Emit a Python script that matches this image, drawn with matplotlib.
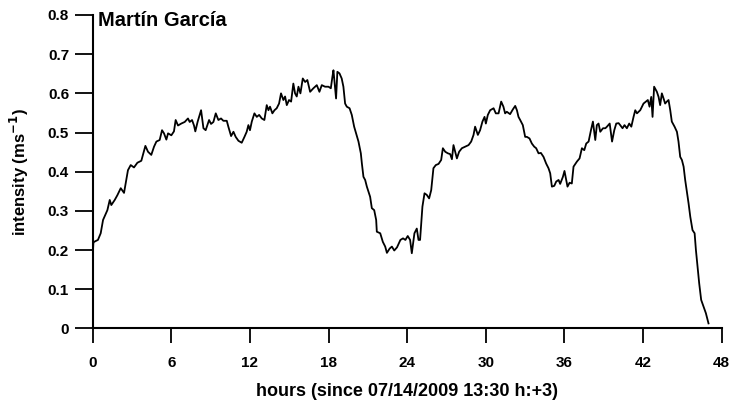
import matplotlib
matplotlib.use("Agg")
import matplotlib.pyplot as plt

hours = [
    0.0, 0.05, 0.1, 0.4, 0.61, 0.79, 0.96, 1.12, 1.3, 1.42, 1.68, 1.88, 2.14, 2.39, 2.69, 2.9, 3.15, 3.41, 3.71,
    4.02, 4.22, 4.47, 4.68, 4.86, 5.11, 5.29, 5.44, 5.62, 5.75, 6.0, 6.2, 6.33, 6.51, 6.76, 7.02, 7.27, 7.4,
    7.58, 7.73, 7.83, 8.01, 8.27, 8.45, 8.62, 8.88, 9.03, 9.21, 9.39, 9.59, 9.79, 9.97, 10.23, 10.35, 10.56,
    10.74, 10.91, 11.12, 11.37, 11.58, 11.75, 11.88, 12.0, 12.14, 12.34, 12.52, 12.7, 12.9, 13.1, 13.28, 13.41,
    13.53, 13.71, 13.87, 14.04, 14.22, 14.37, 14.55, 14.68, 14.81, 14.98, 15.14, 15.31, 15.44, 15.57, 15.7,
    15.85, 16.03, 16.21, 16.38, 16.59, 16.84, 17.1, 17.3, 17.48, 17.73, 17.99, 18.17, 18.29, 18.37, 18.45,
    18.57, 18.67, 18.83, 19.0, 19.13, 19.26, 19.39, 19.6, 19.77, 19.95, 20.1, 20.28, 20.46, 20.54, 20.66,
    20.79, 20.92, 21.17, 21.3, 21.48, 21.63, 21.68, 21.94, 22.14, 22.32, 22.45, 22.66, 22.83, 23.01, 23.22,
    23.48, 23.68, 23.86, 24.04, 24.22, 24.35, 24.55, 24.73, 24.86, 24.98, 25.16, 25.32, 25.49, 25.67, 25.83,
    26.0, 26.18, 26.39, 26.59, 26.72, 26.9, 27.1, 27.28, 27.41, 27.53, 27.66, 27.79, 27.96, 28.17, 28.42,
    28.68, 28.88, 29.06, 29.18, 29.39, 29.56, 29.74, 29.9, 30.0, 30.15, 30.33, 30.59, 30.76, 30.97, 31.17,
    31.34, 31.47, 31.6, 31.85, 32.06, 32.24, 32.37, 32.49, 32.62, 32.82, 33.0, 33.13, 33.33, 33.51, 33.69,
    33.84, 34.02, 34.2, 34.4, 34.6, 34.78, 34.91, 35.04, 35.22, 35.37, 35.55, 35.67, 35.88, 36.0, 36.13,
    36.23, 36.39, 36.56, 36.69, 36.95, 37.15, 37.33, 37.51, 37.66, 37.84, 38.02, 38.17, 38.35, 38.47, 38.6,
    38.73, 38.94, 39.12, 39.24, 39.45, 39.63, 39.8, 39.95, 40.13, 40.25, 40.43, 40.58, 40.76, 40.94, 41.1,
    41.27, 41.4, 41.53, 41.78, 42.03, 42.21, 42.36, 42.49, 42.62, 42.72, 42.84, 43.05, 43.18, 43.3, 43.43,
    43.56, 43.68, 43.81, 43.94, 44.07, 44.19, 44.4, 44.58, 44.7, 44.83, 44.96, 45.09, 45.21, 45.34, 45.47,
    45.6, 45.77, 45.93, 46.03, 46.18, 46.28, 46.43, 46.61, 46.79, 46.99,
]

intensity = [
    0.183, 0.218, 0.221, 0.226, 0.243, 0.277, 0.29, 0.302, 0.328, 0.315, 0.328, 0.34, 0.358, 0.346, 0.404,
    0.417, 0.411, 0.423, 0.428, 0.466, 0.451, 0.443, 0.464, 0.477, 0.481, 0.506, 0.498, 0.482, 0.498, 0.493,
    0.503, 0.532, 0.518, 0.523, 0.527, 0.536, 0.527, 0.532, 0.518, 0.503, 0.528, 0.557, 0.511, 0.506, 0.532,
    0.522, 0.527, 0.549, 0.532, 0.536, 0.53, 0.53, 0.515, 0.491, 0.502, 0.489, 0.479, 0.474, 0.489, 0.502,
    0.519, 0.506, 0.528, 0.549, 0.54, 0.545, 0.536, 0.532, 0.57, 0.557, 0.566, 0.549, 0.557, 0.562, 0.574,
    0.6, 0.583, 0.592, 0.57, 0.583, 0.579, 0.625, 0.6, 0.592, 0.617, 0.6, 0.638, 0.629, 0.634, 0.604, 0.613,
    0.621, 0.604, 0.621, 0.617, 0.617, 0.613, 0.642, 0.659, 0.629, 0.587, 0.655, 0.651, 0.638, 0.617, 0.574,
    0.566, 0.562, 0.545, 0.515, 0.498, 0.477, 0.447, 0.421, 0.387, 0.379, 0.362, 0.336, 0.307, 0.302, 0.277,
    0.247, 0.243, 0.221, 0.209, 0.193, 0.204, 0.209, 0.199, 0.207, 0.226, 0.23, 0.226, 0.236, 0.226, 0.192,
    0.243, 0.255, 0.226, 0.226, 0.311, 0.345, 0.341, 0.332, 0.353, 0.409, 0.417, 0.42, 0.43, 0.46, 0.451,
    0.447, 0.445, 0.432, 0.468, 0.451, 0.434, 0.451, 0.46, 0.464, 0.468, 0.477, 0.494, 0.515, 0.494, 0.506,
    0.528, 0.54, 0.523, 0.545, 0.557, 0.562, 0.549, 0.549, 0.579, 0.566, 0.549, 0.553, 0.547, 0.559, 0.568,
    0.557, 0.54, 0.532, 0.519, 0.489, 0.489, 0.485, 0.472, 0.464, 0.46, 0.447, 0.448, 0.438, 0.421, 0.409,
    0.396, 0.362, 0.364, 0.375, 0.379, 0.369, 0.387, 0.402, 0.379, 0.362, 0.372, 0.37, 0.413, 0.426, 0.434,
    0.46, 0.455, 0.472, 0.477, 0.506, 0.528, 0.481, 0.519, 0.523, 0.502, 0.511, 0.511, 0.515, 0.523, 0.477,
    0.506, 0.523, 0.524, 0.519, 0.511, 0.519, 0.511, 0.523, 0.515, 0.54, 0.557, 0.549, 0.557, 0.574, 0.579,
    0.583, 0.566, 0.591, 0.54, 0.617, 0.604, 0.591, 0.57, 0.6, 0.587, 0.574, 0.579, 0.583, 0.557, 0.528,
    0.515, 0.502, 0.477, 0.438, 0.43, 0.413, 0.379, 0.349, 0.319, 0.285, 0.251, 0.243, 0.2, 0.149, 0.115,
    0.073, 0.056, 0.039, 0.013,
]

x_ticks = [0, 6, 12, 18, 24, 30, 36, 42, 48]
y_ticks = [0, 0.1, 0.2, 0.3, 0.4, 0.5, 0.6, 0.7, 0.8]
y_tick_labels = ["0", "0.1", "0.2", "0.3", "0.4", "0.5", "0.6", "0.7", "0.8"]

plt.rcParams["font.family"] = ["Liberation Sans", "DejaVu Sans"]
plt.rcParams["font.weight"] = "bold"

fig = plt.figure(figsize=(7.34, 4.04), dpi=100)
ax = fig.add_axes([0.1263, 0.1869, 0.857, 0.776])

ax.plot(hours, intensity, color="black", lw=1.3)

ax.set_xlim(0, 48)
ax.set_ylim(0, 0.8)
ax.set_xticks(x_ticks)
ax.set_yticks(y_ticks)
ax.set_yticklabels(y_tick_labels)

for s in ["top", "right"]:
    ax.spines[s].set_visible(False)
for s in ["left", "bottom"]:
    ax.spines[s].set_linewidth(1.5)

ax.tick_params(axis="y", direction="out", length=13, width=1.3, labelsize=11, pad=4)
ax.tick_params(axis="x", direction="out", length=11, width=1.3, labelsize=11, pad=9)

ax.set_xlabel("hours (since 07/14/2009 13:30 h:+3)", fontsize=13, fontweight="bold", labelpad=9)
ax.set_ylabel("intensity (ms$^{\\mathbf{-1}}$)", fontsize=12, fontweight="bold", labelpad=12)

ax.text(0.009, 0.984, "Martín García", transform=ax.transAxes, fontsize=14.5,
        fontweight="bold", ha="left", va="center")

fig.savefig("out.png", dpi=100)
